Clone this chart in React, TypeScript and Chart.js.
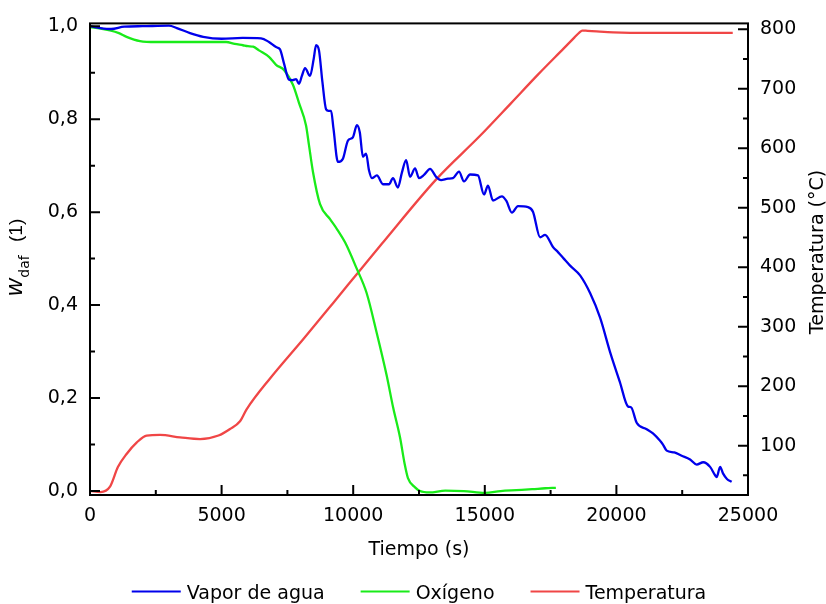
import React, { useEffect, useRef } from "react";
import { Chart, registerables } from "chart.js";

Chart.register(...registerables);

// ---- data ----
const xTickValues = [0, 5000, 10000, 15000, 20000, 25000];
const xMinorTicks = [2500, 7500, 12500, 17500, 22500];
const leftTickValues = [0, 0.2, 0.4, 0.6, 0.8, 1.0];
const leftMinorTicks = [0.1, 0.3, 0.5, 0.7, 0.9];
const rightTickValues = [100, 200, 300, 400, 500, 600, 700, 800];
const rightMinorTicks = [50, 150, 250, 350, 450, 550, 650, 750];

const vaporTime = [
  0, 400, 800, 1300, 2000, 3000, 3300, 3800, 4300, 5000, 5800, 6500, 6800, 7070, 7220, 7370, 7560, 7700, 7830,
  7940, 8050, 8170, 8360, 8500, 8590, 8700, 8830, 8970, 9060, 9160, 9250, 9420, 9610, 9800, 9990, 10140, 10250,
  10370, 10490, 10600, 10710, 10900, 11130, 11360, 11510, 11700, 11850, 12010, 12160, 12350, 12500, 12690, 12920,
  13150, 13340, 13600, 13790, 14020, 14210, 14440, 14740, 14970, 15120, 15310, 15650, 15820, 16030, 16260, 16640,
  16830, 17100, 17290, 17590, 17780, 18000, 18240, 18620, 19000, 19380, 19760, 20130, 20440, 20560, 20770, 21150,
  21390, 21660, 21770, 21910, 22200, 22480, 22800, 23050, 23300, 23560, 23750, 23810, 23940, 24050, 24200, 24380,
];
const vaporValues = [
  1.0, 0.996, 0.994, 0.999, 1.0, 1.001, 0.996, 0.985, 0.977, 0.973, 0.975, 0.974, 0.966, 0.955, 0.95, 0.92, 0.885,
  0.884, 0.886, 0.876, 0.893, 0.91, 0.893, 0.93, 0.959, 0.948, 0.88, 0.821, 0.818, 0.818, 0.78, 0.708, 0.715,
  0.754, 0.761, 0.787, 0.772, 0.719, 0.726, 0.69, 0.673, 0.679, 0.66, 0.66, 0.673, 0.653, 0.685, 0.712, 0.676,
  0.694, 0.673, 0.68, 0.693, 0.676, 0.669, 0.672, 0.673, 0.687, 0.666, 0.681, 0.679, 0.638, 0.657, 0.625, 0.634,
  0.624, 0.599, 0.613, 0.611, 0.601, 0.546, 0.551, 0.525, 0.514, 0.5, 0.485, 0.464, 0.426, 0.373, 0.299, 0.235,
  0.182, 0.18, 0.147, 0.133, 0.124, 0.108, 0.1, 0.087, 0.083, 0.076, 0.068, 0.057, 0.062, 0.052, 0.034, 0.03,
  0.052, 0.038, 0.026, 0.02,
];

const oxygenTime = [
  0, 400, 760, 1100, 1390, 1900, 2500, 3500, 4500, 5170, 5500, 5810, 6000, 6200, 6420, 6800, 7070, 7370, 7710,
  7940, 8210, 8320, 8470, 8740, 9120, 9400, 9690, 10130, 10510, 10890, 11270, 11520, 11780, 11950, 12080, 12350,
  12540, 12900, 13500, 14200, 15010, 15600, 16200, 16800, 17300, 17700,
];
const oxygenValues = [
  0.998, 0.995, 0.991, 0.985, 0.977, 0.968, 0.966, 0.966, 0.966, 0.966, 0.962, 0.959, 0.957, 0.956, 0.948, 0.934,
  0.917, 0.906, 0.874, 0.835, 0.786, 0.744, 0.687, 0.617, 0.585, 0.562, 0.535, 0.479, 0.426, 0.341, 0.249, 0.179,
  0.115, 0.06, 0.028, 0.008, 0.0, -0.003, 0.001, 0.0, -0.004, 0.0, 0.002, 0.004, 0.006, 0.007,
];

const tempTime = [
  0, 400, 760, 1060, 1390, 1770, 2150, 2660, 3420, 4180, 4880, 5320, 5700, 5950, 6840, 8100, 9240, 10260, 11080,
  13180, 14820, 16000, 17000, 18000, 18400, 18600, 18700, 18900, 19250, 19880, 21200, 24420,
];
const tempValues = [
  24, 22, 31, 64, 86, 105, 117, 118, 114, 111, 117, 128, 141, 161, 213, 279, 340, 395, 439, 549, 621, 676, 723,
  768, 786, 795, 798, 797.5, 796.5, 795, 794, 794,
];

const seriesNames = ["Vapor de agua", "Oxígeno", "Temperatura"];
const seriesColors = ["rgb(0,0,235)", "rgb(25,235,25)", "rgb(240,70,70)"];

const zip = (xs: number[], ys: number[]) => xs.map((x, i) => ({ x, y: ys[i] }));

const FAMILY = "'DejaVu Sans', Verdana, sans-serif";
const TICK_FONT = { family: FAMILY, size: 19 };
const SANS = "'Liberation Sans', Arial, sans-serif";

const framePlugin = {
  id: "frame",
  afterDatasetsDraw(chart: any) {
    const { ctx, chartArea: a, scales } = chart;
    ctx.save();
    ctx.strokeStyle = "#000";
    ctx.lineWidth = 2;
    ctx.strokeRect(a.left, a.top, a.right - a.left, a.bottom - a.top);
    ctx.beginPath();
    const xs = scales.x;
    xTickValues.forEach((v) => {
      const p = xs.getPixelForValue(v);
      ctx.moveTo(p, a.bottom);
      ctx.lineTo(p, a.bottom - 10);
    });
    xMinorTicks.forEach((v) => {
      const p = xs.getPixelForValue(v);
      ctx.moveTo(p, a.bottom);
      ctx.lineTo(p, a.bottom - 5);
    });
    const yl = scales.y;
    leftTickValues.forEach((v) => {
      const p = yl.getPixelForValue(v);
      ctx.moveTo(a.left, p);
      ctx.lineTo(a.left + 10, p);
    });
    leftMinorTicks.forEach((v) => {
      const p = yl.getPixelForValue(v);
      ctx.moveTo(a.left, p);
      ctx.lineTo(a.left + 5, p);
    });
    const yr = scales.y2;
    rightTickValues.forEach((v) => {
      const p = yr.getPixelForValue(v);
      ctx.moveTo(a.right, p);
      ctx.lineTo(a.right - 10, p);
    });
    rightMinorTicks.forEach((v) => {
      const p = yr.getPixelForValue(v);
      ctx.moveTo(a.right, p);
      ctx.lineTo(a.right - 5, p);
    });
    ctx.stroke();
    ctx.restore();
  },
  afterDraw(chart: any) {
    const { ctx, chartArea: a } = chart;
    ctx.save();
    ctx.fillStyle = "#000";
    // left axis title: w_daf (1)
    ctx.save();
    ctx.translate(22, 296);
    ctx.rotate(-Math.PI / 2);
    ctx.textAlign = "left";
    ctx.textBaseline = "alphabetic";
    ctx.font = `italic 24px ${SANS}`;
    ctx.fillText("w", 0, 0);
    const ww = ctx.measureText("w").width;
    ctx.font = `14px ${FAMILY}`;
    ctx.fillText("daf", ww + 1, 7);
    ctx.font = `19px ${SANS}`;
    ctx.fillText("(1)", 54, 0);
    ctx.restore();

    // right axis title
    ctx.save();
    ctx.translate(822.5, 252);
    ctx.rotate(-Math.PI / 2);
    ctx.textAlign = "center";
    ctx.textBaseline = "alphabetic";
    ctx.font = `19px ${FAMILY}`;
    ctx.fillText("Temperatura (°C)", 0, 0);
    ctx.restore();

    // legend (centred under the plot area)
    ctx.font = `19px ${FAMILY}`;
    ctx.textAlign = "left";
    ctx.textBaseline = "alphabetic";
    const lineLen = 49;
    const gapText = 6;
    const gapItem = 36;
    const widths = seriesNames.map((n) => ctx.measureText(n).width);
    const total =
      widths.reduce((s, w) => s + w, 0) + seriesNames.length * (lineLen + gapText) + (seriesNames.length - 1) * gapItem;
    let x = (a.left + a.right) / 2 - total / 2;
    const ly = 591.5;
    seriesNames.forEach((name, i) => {
      ctx.strokeStyle = seriesColors[i];
      ctx.lineWidth = 2;
      ctx.beginPath();
      ctx.moveTo(x, ly);
      ctx.lineTo(x + lineLen, ly);
      ctx.stroke();
      ctx.fillStyle = "#000";
      ctx.fillText(name, x + lineLen + gapText, 598.5);
      x += lineLen + gapText + widths[i] + gapItem;
    });
    ctx.restore();
  },
};

export default function App() {
  const ref = useRef<HTMLCanvasElement>(null);
  useEffect(() => {
    const canvas = ref.current!;
    const ds = (i: number, data: { x: number; y: number }[], axis: string) => ({
      label: seriesNames[i],
      data,
      yAxisID: axis,
      borderColor: seriesColors[i],
      backgroundColor: seriesColors[i],
      borderWidth: 2.3,
      pointRadius: 0,
      fill: false,
      cubicInterpolationMode: "monotone" as const,
    });
    const chart = new Chart(canvas, {
      type: "line",
      data: {
        datasets: [
          ds(0, zip(vaporTime, vaporValues), "y"),
          ds(1, zip(oxygenTime, oxygenValues), "y"),
          ds(2, zip(tempTime, tempValues), "y2"),
        ],
      },
      options: {
        responsive: false,
        animation: false,
        events: [],
        layout: { padding: { top: 16, left: 0, right: 0, bottom: 0 } },
        plugins: { legend: { display: false }, tooltip: { enabled: false } },
        scales: {
          x: {
            type: "linear",
            min: 0,
            max: 25000,
            afterBuildTicks: (s: any) => {
              s.ticks = xTickValues.map((v) => ({ value: v }));
            },
            afterFit: (s: any) => {
              s.height = 109;
            },
            grid: { display: false, drawTicks: false },
            border: { display: false },
            ticks: {
              padding: 10,
              color: "#000",
              font: TICK_FONT,
              maxRotation: 0,
              autoSkip: false,
              callback: (v: any) => String(v),
            },
            title: {
              display: true,
              text: "Tiempo (s)",
              color: "#000",
              font: { family: FAMILY, size: 19 },
              padding: { top: 0, bottom: 43 },
            },
          },
          y: {
            type: "linear",
            position: "left",
            min: -0.0085,
            max: 1.006,
            afterBuildTicks: (s: any) => {
              s.ticks = leftTickValues.map((v) => ({ value: v }));
            },
            afterFit: (s: any) => {
              s.width = 90;
            },
            grid: { display: false, drawTicks: false },
            border: { display: false },
            ticks: {
              padding: 12,
              color: "#000",
              font: TICK_FONT,
              autoSkip: false,
              callback: (v: any) => Number(v).toFixed(1).replace(".", ","),
            },
          },
          y2: {
            type: "linear",
            position: "right",
            min: 17,
            max: 810,
            afterBuildTicks: (s: any) => {
              s.ticks = rightTickValues.map((v) => ({ value: v }));
            },
            afterFit: (s: any) => {
              s.width = 78;
            },
            grid: { display: false, drawTicks: false },
            border: { display: false },
            ticks: {
              padding: 12,
              color: "#000",
              font: TICK_FONT,
              autoSkip: false,
              callback: (v: any) => String(v),
            },
          },
        },
      },
      plugins: [framePlugin],
    });
    return () => chart.destroy();
  }, []);
  return (
    <div style={{ position: "fixed", left: 0, top: 0, width: 826, height: 604, background: "#fff" }}>
      <canvas ref={ref} width={826} height={604} style={{ width: 826, height: 604, display: "block" }} />
    </div>
  );
}
